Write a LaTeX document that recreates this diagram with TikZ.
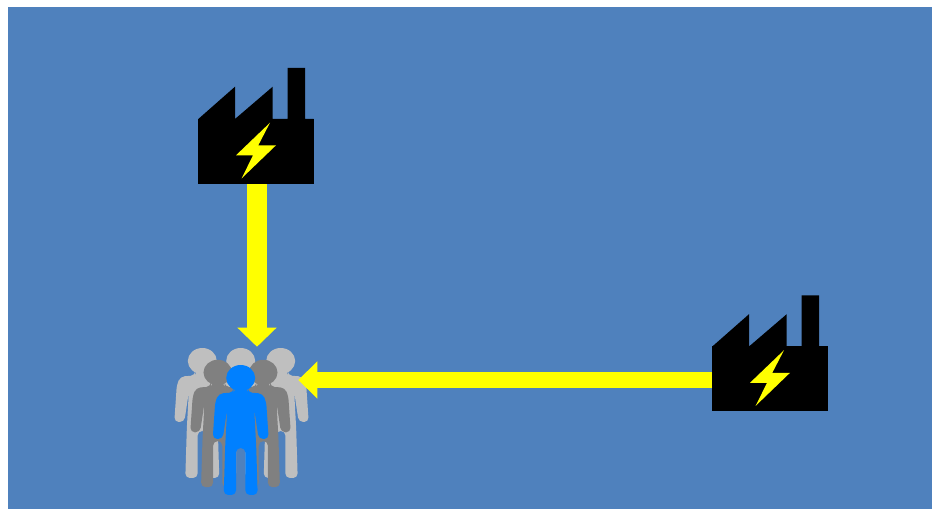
\documentclass[tikz,border=0pt]{standalone}
\usepackage{xcolor}
\usetikzlibrary{arrows.meta}
\definecolor{sky}{HTML}{4F81BD}
\definecolor{bolt}{HTML}{FFFF00}
\definecolor{front}{HTML}{0080FF}
\definecolor{midgray}{HTML}{808080}
\definecolor{backgray}{HTML}{BFBFBF}

\begin{document}
\begin{tikzpicture}[x=0.75pt, y=-0.75pt,
  body/.style={fill=black, inner sep=0pt, minimum width=86.5pt, minimum height=48.75pt},
  group/.style={inner sep=0pt, minimum width=91.5pt, minimum height=111pt},
  arrv/.style={-{Triangle[length=14.25pt, width=28.5pt]}, line width=15pt, bolt},
  arrh/.style={-{Triangle[length=14.25pt, width=27pt]}, line width=12pt, bolt},
  plant/.pic={
    \fill[black] (-57.7,-32.5) -- (-21,-64.8) -- (-21,-32.5) -- (16.7,-64.8) -- (16.7,-32.5)
      -- (31.5,-32.5) -- (31.5,-83.5) -- (49,-83.5) -- (49,-32.5) -- (57.7,-32.5) -- cycle;
    \fill[bolt] (14,-28.8) -- (-20,3.8) -- (-3,3.8) -- (-14.3,26.8) -- (20,-6.2) -- (2.3,-6.2) -- cycle;
  },
  person/.pic={
    \fill[pic actions] (0,0) ellipse (14.5 and 13);
    \fill[pic actions, rounded corners=3.4pt] (-7,10) -- (7,10) -- (7,14.5) -- (22,15.5) -- (25.5,24)
      -- (28,61) -- (18,61) -- (13.5,31) -- (15.5,68) -- (17,117) -- (4.7,117) -- (4.7,70)
      -- (-4.7,70) -- (-4.7,117) -- (-17,117) -- (-15.5,68) -- (-13.5,31) -- (-18,61)
      -- (-28,61) -- (-25.5,24) -- (-22,15.5) -- (-7,14.5) -- cycle;
  }
]
  \useasboundingbox (0,0) rectangle (932,509);
  \fill[white] (0,0) rectangle (932,509);
  \fill[sky] (8,7) rectangle (932,509);

  \node[body] (plantA) at (256,151.5) {};
  \node[body] (plantB) at (770,379) {};
  \pic at (plantA) {plant};
  \pic at (plantB) {plant};

  \node[group] (crowd) at (237,421) {};

  \foreach \px/\py in {202.3/361, 240.7/361, 280.7/361}
    \pic[fill=backgray] at (\px,\py) {person};
  \foreach \px/\py in {217.7/372.5, 263.3/372.5}
    \pic[fill=midgray, scale=0.98] at (\px,\py) {person};
  \pic[fill=front] at (240.7,378) {person};

  \draw[arrv] ([xshift=0.75pt]plantA.south) -- ([xshift=0.75pt]plantA.south |- crowd.north);
  \draw[arrh] ([yshift=-0.75pt]plantB.west) -- ([yshift=-0.75pt]plantB.west -| crowd.east);
\end{tikzpicture}
\end{document}
